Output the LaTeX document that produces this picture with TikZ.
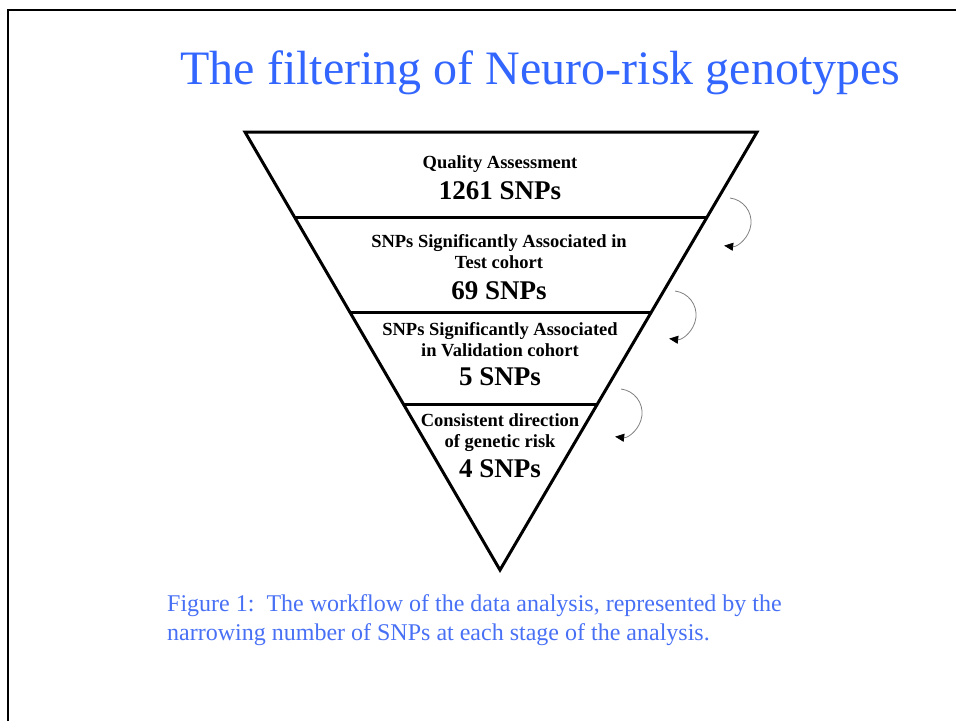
\documentclass[tikz,border=0pt]{standalone}
\usepackage{fontspec}
\setmainfont{Liberation Serif}
\usetikzlibrary{arrows.meta,calc}
\definecolor{titleblue}{RGB}{51,102,255}
\definecolor{capblue}{RGB}{72,112,245}
\begin{document}
\begin{tikzpicture}[x=1pt,y=-1pt,
  funnel/.style={line width=3pt, line join=miter},
  divider/.style={line width=3pt},
  small/.style={font=\fontsize{18.5}{20}\selectfont\bfseries, anchor=base, inner sep=0pt},
  big/.style={font=\fontsize{27}{30}\selectfont\bfseries, anchor=base, inner sep=0pt},
  caption/.style={font=\fontsize{24}{28}\selectfont, text=capblue, anchor=base west, inner sep=0pt},
  turn/.style={draw=gray, line width=0.8pt, -{Triangle[length=9pt,width=8pt,color=black]}}
]
\useasboundingbox (0,0) rectangle (956,721);

% page frame
\draw[line width=2pt] (8,721) -- (8,10) -- (956,10);

% title
\node[font=\fontsize{48}{50}\selectfont, text=titleblue, anchor=base, inner sep=0pt]
  (title) at (540.5,84) {The filtering of Neuro-risk genotypes};

% funnel outline
\coordinate (tl) at (245,132);
\coordinate (tr) at (757,132);
\coordinate (apex) at (500,570);
\draw[funnel] (tl) -- (tr) -- (apex) -- cycle;

% stage dividers
\foreach \t/\n in {0.1963/1, 0.411/2, 0.621/3} {
  \coordinate (l\n) at ($(tl)!\t!(apex)$);
  \coordinate (r\n) at ($(tr)!\t!(apex)$);
  \draw[divider] (l\n) -- (r\n);
}

% stage 1
\node[small] (s1a) at (500,168) {Quality Assessment};
\node[big]   (s1b) at (500,199) {1261 SNPs};
% stage 2
\node[small] (s2a) at (499,247) {SNPs Significantly Associated in};
\node[small] (s2b) at (499,268) {Test cohort};
\node[big]   (s2c) at (499,299) {69 SNPs};
% stage 3
\node[small] (s3a) at (500,335) {SNPs Significantly Associated};
\node[small] (s3b) at (500,356) {in Validation cohort};
\node[big]   (s3c) at (500,385) {5 SNPs};
% stage 4
\node[small] (s4a) at (500,426) {Consistent direction};
\node[small] (s4b) at (500,447) {of genetic risk};
\node[big]   (s4c) at (500,477) {4 SNPs};

% curved arrows between stages
\coordinate (a1) at (730,198);
\coordinate (a2) at (675,291);
\coordinate (a3) at (621,389);
\foreach \a in {a1,a2,a3}
  \draw[turn] (\a) arc[start angle=-83, end angle=97, radius=24];

% caption
\node[caption] (cap1) at (167,611) {Figure 1:\ \ The workflow of the data analysis, represented by the};
\node[caption] (cap2) at (167,640) {narrowing number of SNPs at each stage of the analysis.};
\end{tikzpicture}
\end{document}
